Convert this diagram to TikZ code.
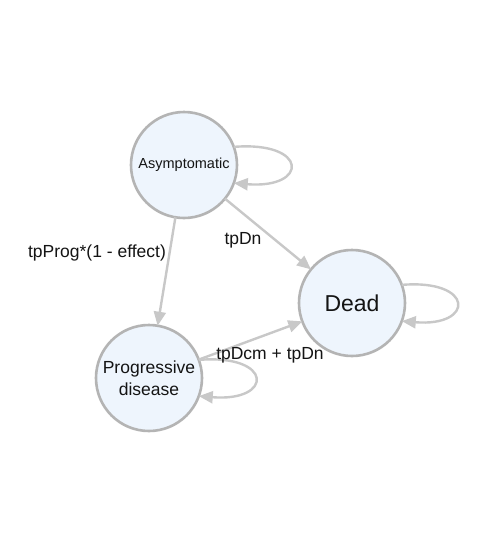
\documentclass[tikz,border=0pt]{standalone}
\usepackage{fontspec}
\setmainfont{Liberation Sans}
\usetikzlibrary{arrows.meta}
\definecolor{edgegray}{HTML}{C8C8C8}
\definecolor{nodeborder}{HTML}{B4B4B4}
\definecolor{nodefill}{HTML}{EEF5FD}
\definecolor{txt}{HTML}{141414}
\begin{document}
\begin{tikzpicture}[x=1pt,y=-1pt,
  state/.style={circle, draw=nodeborder, fill=nodefill, line width=2.6pt,
    minimum size=106pt, inner sep=0pt, outer sep=0pt, text=txt, align=center},
  trans/.style={draw=edgegray, line width=2.4pt, -{Triangle[length=14pt,width=12pt]}},
  lbl/.style={text=txt, font=\fontsize{17.5}{20}\selectfont, inner sep=0pt}]
\useasboundingbox (0,0) rectangle (484,542);
\fill[white] (0,0) rectangle (484,542);
\node[state, font=\fontsize{14.5}{17}\selectfont] (A) at (184,165) {Asymptomatic};
\node[state, font=\fontsize{17.5}{22}\selectfont] (P) at (149,378) {Progressive\\disease};
\node[state, font=\fontsize{23}{26}\selectfont] (D) at (352,303) {Dead};
\draw[trans] (A) -- (P);
\draw[trans] (A) -- (D);
\draw[trans] (P) -- (D);
\draw[trans] (A.20) .. controls +(75,-6) and +(75,6) .. (A.-20);
\draw[trans] (D.20) .. controls +(73,-6) and +(73,6) .. (D.-20);
\draw[trans] (P.20) .. controls +(75,-6) and +(75,6) .. (P.-20);
\node[lbl] (l1) at (97,253) {tpProg*(1 - effect)};
\node[lbl] (l2) at (243,240) {tpDn};
\node[lbl] (l3) at (270,355) {tpDcm + tpDn};
\end{tikzpicture}
\end{document}
